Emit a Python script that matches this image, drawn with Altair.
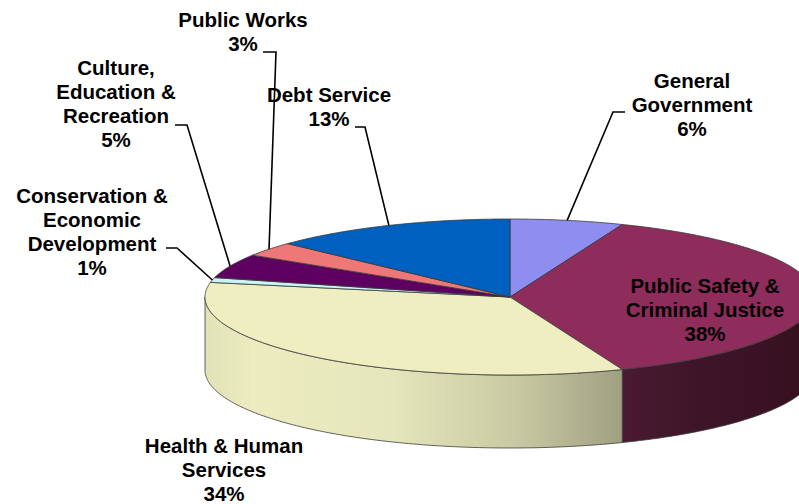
import math
import altair as alt
import pandas as pd

# ---- data ----
categories = ["General Government", "Public Safety & Criminal Justice", "Health & Human Services",
              "Conservation & Economic Development", "Culture, Education & Recreation",
              "Public Works", "Debt Service"]
shares = [6, 38, 34, 1, 5, 3, 13]
label_texts = ["General\nGovernment\n6%", "Public Safety &\nCriminal Justice\n38%",
               "Health & Human\nServices\n34%", "Conservation &\nEconomic\nDevelopment\n1%",
               "Culture,\nEducation &\nRecreation\n5%", "Public Works\n3%", "Debt Service\n13%"]
top_colors = ["#8E8EF0", "#8E2C5C", "#EEEEC0", "#C8F4F4", "#5E0060", "#EE7878", "#0060C0"]

# ---- layout (pixels) ----
CX, CY, RX, RY, DEPTH = 510, 297, 305, 78, 73
# label anchor (center x, first baseline y), and elbow of leader line (None = no leader)
label_pos = [(692, 88), (705, 293), (224, 453), (92, 203), (116, 75), (243, 27), (329, 102)]
elbows = [((625, 112), (613, 112)), None, None, ((166, 248), (177, 248)),
          ((175, 125), (187, 125)), ((263, 52), (276, 52)), ((355, 127), (365, 127))]


def pt(t_deg, dy=0.0):
    t = math.radians(t_deg)
    return [CX + RX * math.sin(t), CY - RY * math.cos(t) + dy]


def arc(t1, t2, dy=0.0, step=0.5):
    n = max(2, int(abs(t2 - t1) / step) + 1)
    return [pt(t1 + (t2 - t1) * i / (n - 1), dy) for i in range(n)]


total = sum(shares)
bounds = []
acc = 0.0
for s in shares:
    a0 = acc / total * 360
    acc += s
    a1 = acc / total * 360
    bounds.append((a0, a1))

top_feats = []
for name, (a0, a1), col in zip(categories, bounds, top_colors):
    ring = [[CX, CY]] + arc(a0, a1) + [[CX, CY]]
    top_feats.append({"type": "Feature", "geometry": {"type": "Polygon", "coordinates": [ring]},
                      "properties": {"name": name, "fill": col}})


def side(a0, a1):
    lo, hi = max(a0, 90), min(a1, 270)
    ring = arc(lo, hi) + arc(hi, lo, DEPTH)
    ring.append(ring[0])
    return {"type": "Feature", "geometry": {"type": "Polygon", "coordinates": [ring]}, "properties": {}}


PROJ = dict(type="identity", scale=1, translate=[0, 0])
stroke_col = "#3a3a3a"

side_ps = alt.Chart(alt.Data(values=[side(*bounds[1])])).mark_geoshape(
    fill=alt.Gradient(gradient="linear", x1=0, x2=1, y1=0, y2=0,
                      stops=[alt.GradientStop(color="#4A1A32", offset=0),
                             alt.GradientStop(color="#3E1528", offset=0.4),
                             alt.GradientStop(color="#36101F", offset=1)]),
    stroke=stroke_col, strokeWidth=0.8).project(**PROJ)

side_hh = alt.Chart(alt.Data(values=[side(*bounds[2])])).mark_geoshape(
    fill=alt.Gradient(gradient="linear", x1=0, x2=1, y1=0, y2=0,
                      stops=[alt.GradientStop(color="#E2E2B8", offset=0),
                             alt.GradientStop(color="#ECECC0", offset=0.12),
                             alt.GradientStop(color="#E6E6BC", offset=0.45),
                             alt.GradientStop(color="#C8C8A2", offset=0.75),
                             alt.GradientStop(color="#A0A082", offset=1)]),
    stroke=stroke_col, strokeWidth=0.8).project(**PROJ)

tops = alt.Chart(alt.Data(values=top_feats)).mark_geoshape(
    stroke=stroke_col, strokeWidth=0.8).encode(
    fill=alt.Fill("properties.fill:N", scale=None)).project(**PROJ)

# leader lines
lead_feats = []
for i, e in enumerate(elbows):
    if e is None:
        continue
    a0, a1 = bounds[i]
    end = pt((a0 + a1) / 2)
    coords = [list(e[0]), list(e[1]), end]
    lead_feats.append({"type": "Feature", "geometry": {"type": "LineString", "coordinates": coords},
                       "properties": {}})
leaders = alt.Chart(alt.Data(values=lead_feats)).mark_geoshape(
    filled=False, stroke="black", strokeWidth=1.6).project(**PROJ)

lab_df = pd.DataFrame({"text": label_texts,
                       "lx": [p[0] for p in label_pos],
                       "ly": [p[1] for p in label_pos]})
labels = alt.Chart(lab_df).mark_text(
    font="Liberation Sans", fontWeight="bold", fontSize=20.5, lineBreak="\n", lineHeight=24,
    align="center", baseline="alphabetic", color="black").encode(
    x=alt.X("lx:Q", scale=None), y=alt.Y("ly:Q", scale=None), text="text:N")

chart = alt.layer(side_ps, side_hh, tops, leaders, labels).properties(
    width=799, height=504, padding=0, autosize=alt.AutoSizeParams(type="none"),
    background="white").configure_view(stroke=None)

chart.save("out.html", embed_options={"renderer": "svg", "actions": False})
